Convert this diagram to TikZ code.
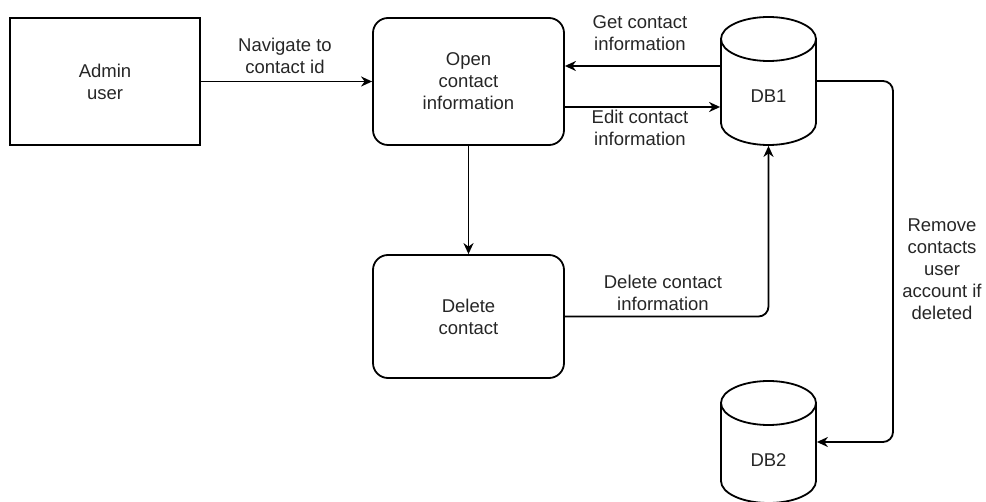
\documentclass[tikz,border=0pt]{standalone}
\usepackage{fontspec}
\setmainfont{Liberation Sans}
\usetikzlibrary{arrows.meta}
\begin{document}
\begin{tikzpicture}[x=1pt,y=1pt,
  line width=1.8pt,
  every node/.style={font=\fontsize{18.5}{22}\selectfont, text=black!85, align=center, inner sep=0pt},
  box/.style={draw, minimum width=191pt, minimum height=127pt},
  rbox/.style={box, rounded corners=15pt},
  dbbody/.style={minimum width=95pt, minimum height=128pt},
  arr/.style={-{Stealth[length=11pt,width=10pt,inset=3.5pt]}}
]
\useasboundingbox (0,0) rectangle (986,-502);

% process boxes
\node[box, minimum width=190pt] (admin) at (105,-81.5) {Admin\\user};
\node[rbox] (open) at (468.5,-81.5) {Open\\contact\\information};
\node[rbox, minimum height=123pt] (delete) at (468.5,-316.5) {Delete\\contact};

% database cylinders
\newcommand{\dbcyl}[3]{%
  % #1 centre x, #2 top ellipse centre y, #3 bottom ellipse centre y
  \filldraw[fill=white] (#1-47.5,#2) -- (#1-47.5,#3)
    arc[start angle=180,end angle=360,x radius=47.5,y radius=22] -- (#1+47.5,#2);
  \draw (#1,#2) ellipse [x radius=47.5, y radius=22];
}
\dbcyl{768.5}{-39}{-123}
\dbcyl{768.5}{-403}{-481}
\node[dbbody] (db1) at (768.5,-81) {};
\node at (768.5,-96) {DB1};
\node[dbbody, minimum height=122pt] (db2) at (768.5,-442) {};
\node at (768.5,-460) {DB2};

% connectors
\draw[arr] (admin.east) -- (open.west);
\draw[arr] ([yshift=15pt]db1.west) -- ([yshift=15pt]open.east |- db1.west);
\draw[arr] ([yshift=-26pt]open.east |- db1.west) -- ([yshift=-26pt]db1.west);
\draw[arr] (open.south) -- (delete.north);
\draw[arr, rounded corners=10pt] (delete.east) -| (db1.south);
\coordinate (turn) at (893,-81);
\draw[arr, rounded corners=10pt] (db1.east) -- (turn) |- (db2.east);

% connector labels
\node (lnav) at (285,-56) {Navigate to\\contact id};
\node (lget) at (640,-33) {Get contact\\information};
\node (ledit) at (640,-128) {Edit contact\\information};
\node (ldel) at (663,-293) {Delete contact\\information};
\node (lrem) at (942,-269) {Remove\\contacts\\user\\account if\\deleted};
\end{tikzpicture}
\end{document}
